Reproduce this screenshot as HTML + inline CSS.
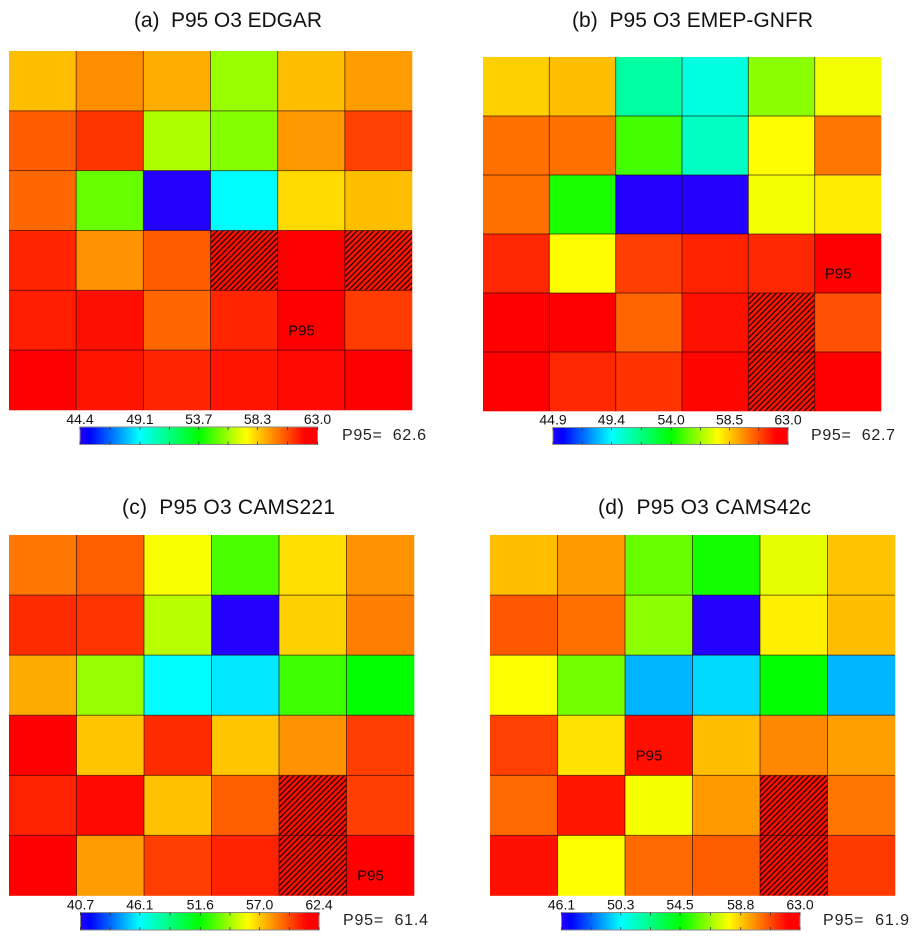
<!DOCTYPE html>
<html lang="en">
<head>
<meta charset="utf-8">
<title>P95 O3 maps</title>
<style>
html,body{margin:0;padding:0;background:#fff;width:919px;height:940px;overflow:hidden}
svg{display:block;font-family:"Liberation Sans",sans-serif}
.title{font-size:21px;fill:#111;white-space:pre}
.stat{font-size:16px;fill:#222;white-space:pre}
</style>
</head>
<body>
<svg id="chart" width="919" height="940" viewBox="0 0 919 940" xmlns="http://www.w3.org/2000/svg">
  <defs>
    <pattern id="hatch" patternUnits="userSpaceOnUse" width="5.6" height="5.6">
      <path d="M-1.4,1.4 L1.4,-1.4 M0,5.6 L5.6,0 M4.2,7 L7,4.2" stroke="#200000" stroke-width="1.25" fill="none"/>
    </pattern>
  </defs>
  <g id="panel-a">
    <text class="title" x="134" y="27" textLength="188">(a)  P95 O3 EDGAR</text>
    <text class="stat" x="342" y="440" textLength="84">P95=  62.6</text>
  </g>
  <g id="panel-b">
    <text class="title" x="572" y="27" textLength="241">(b)  P95 O3 EMEP-GNFR</text>
    <text class="stat" x="811" y="440" textLength="84">P95=  62.7</text>
  </g>
  <g id="panel-c">
    <text class="title" x="122" y="514" textLength="213">(c)  P95 O3 CAMS221</text>
    <text class="stat" x="343" y="925" textLength="85">P95=  61.4</text>
  </g>
  <g id="panel-d">
    <text class="title" x="598" y="514" textLength="213">(d)  P95 O3 CAMS42c</text>
    <text class="stat" x="823" y="925" textLength="86">P95=  61.9</text>
  </g>
</svg>
<script>
const valuesA = [
  [58.6, 59.5, 58.9, 55.9, 58.6, 59.2],
  [60.4, 61.1, 56.2, 55.6, 59.3, 60.9],
  [60.2, 55.2, 44.4, 49.0, 58.1, 58.6],
  [61.4, 59.4, 60.4, 61.8, 62.6, 61.7],
  [61.5, 61.8, 60.2, 61.4, 62.6, 61.0],
  [62.3, 61.7, 61.4, 61.7, 61.9, 62.3]
];
const valuesB = [
  [58.4, 58.7, 51.1, 50.0, 55.9, 57.4],
  [60.1, 60.1, 54.9, 50.5, 57.6, 60.0],
  [60.1, 54.3, 44.9, 44.9, 57.4, 57.9],
  [61.4, 57.6, 61.0, 61.5, 61.4, 62.7],
  [62.2, 62.2, 60.3, 61.8, 61.7, 60.7],
  [62.2, 61.4, 61.2, 62.0, 61.8, 62.2]
];
const valuesC = [
  [58.8, 59.3, 55.8, 52.8, 56.6, 58.2],
  [60.4, 60.2, 54.7, 40.7, 56.9, 58.6],
  [57.7, 54.1, 46.1, 45.7, 52.6, 51.6],
  [61.4, 57.1, 60.4, 57.1, 58.2, 60.0],
  [60.6, 61.1, 57.2, 59.3, 61.0, 60.0],
  [61.4, 58.0, 60.0, 60.6, 61.0, 61.4]
];
const valuesD = [
  [59.0, 59.6, 55.9, 54.8, 57.6, 58.9],
  [60.7, 60.3, 56.4, 46.1, 58.2, 59.0],
  [57.9, 56.1, 49.3, 49.8, 54.6, 49.3],
  [61.1, 58.4, 61.9, 59.0, 59.9, 59.5],
  [60.4, 61.8, 57.8, 59.6, 61.9, 60.2],
  [61.9, 57.9, 60.4, 60.6, 61.9, 61.2]
];
const ticksA = [44.4, 49.1, 53.7, 58.3, 63.0];
const ticksB = [44.9, 49.4, 54.0, 58.5, 63.0];
const ticksC = [40.7, 46.1, 51.6, 57.0, 62.4];
const ticksD = [46.1, 50.3, 54.5, 58.8, 63.0];
const hatchedA = [[3, 3], [3, 5]];
const hatchedB = [[4, 4], [5, 4]];
const hatchedC = [[4, 4], [5, 4]];
const hatchedD = [[4, 4], [5, 4]];
const p95CellA = [4, 4];
const p95CellB = [3, 5];
const p95CellC = [5, 5];
const p95CellD = [3, 2];

const SVG_NS = 'http://www.w3.org/2000/svg';

const layouts = {
  a: { plot: { x0: 9, x1: 412, y0: 51, y1: 410 }, bar: { x0: 80, x1: 317.5, y0: 427, y1: 444.5 } },
  b: { plot: { x0: 483, x1: 881, y0: 57, y1: 411 }, bar: { x0: 553, x1: 788, y0: 427.5, y1: 444.5 } },
  c: { plot: { x0: 9, x1: 414, y0: 535, y1: 895.5 }, bar: { x0: 80.5, x1: 319, y0: 912.5, y1: 930 } },
  d: { plot: { x0: 490, x1: 895, y0: 535, y1: 895.5 }, bar: { x0: 561.5, x1: 800, y0: 912.5, y1: 930 } }
};

const stopPositions = [0, 0.04, 0.25, 0.5, 0.7, 0.95];
const stopColors = [[36, 0, 255], [0, 0, 255], [0, 255, 255], [0, 255, 0], [255, 255, 0], [255, 0, 0]];

function colorAt(t) {
  if (t <= stopPositions[0]) return 'rgb(' + stopColors[0].join(',') + ')';
  for (let i = 1; i < stopPositions.length; i++) {
    if (t <= stopPositions[i]) {
      const f = (t - stopPositions[i - 1]) / (stopPositions[i] - stopPositions[i - 1]);
      const a = stopColors[i - 1];
      const b = stopColors[i];
      return 'rgb(' + a.map(function (c, k) { return Math.round(c + (b[k] - c) * f); }).join(',') + ')';
    }
  }
  return 'rgb(255,0,0)';
}

function make(tag, parent) {
  const el = document.createElementNS(SVG_NS, tag);
  parent.appendChild(el);
  return el;
}

function drawPanel(id, values, ticks, hatched, p95Cell) {
  const group = document.getElementById('panel-' + id);
  const plot = layouts[id].plot;
  const bar = layouts[id].bar;
  const vMin = ticks[0];
  const vMax = ticks[ticks.length - 1];
  const nRows = values.length;
  const nCols = values[0].length;
  const xCol = function (c) { return plot.x0 + c * (plot.x1 - plot.x0) / nCols; };
  const yRow = function (r) { return plot.y0 + r * (plot.y1 - plot.y0) / nRows; };
  const norm = function (v) { return (v - vMin) / (vMax - vMin); };
  const xBar = function (v) { return bar.x0 + norm(v) * (bar.x1 - bar.x0); };

  values.forEach(function (row, r) {
    row.forEach(function (v, c) {
      const cell = make('rect', group);
      
      
      cell.setAttribute('x', xCol(c));
      cell.setAttribute('y', yRow(r));
      cell.setAttribute('width', xCol(c + 1) - xCol(c) + 0.3);
      cell.setAttribute('height', yRow(r + 1) - yRow(r) + 0.3);
      cell.setAttribute('fill', colorAt(norm(v)));
    });
  });

  hatched.forEach(function (h) {
    const mask = make('rect', group);
    
    
    mask.setAttribute('x', xCol(h[1]));
    mask.setAttribute('y', yRow(h[0]));
    mask.setAttribute('width', xCol(h[1] + 1) - xCol(h[1]));
    mask.setAttribute('height', yRow(h[0] + 1) - yRow(h[0]));
    mask.setAttribute('fill', 'url(#hatch)');
  });

  for (let c = 1; c < nCols; c++) {
    const line = make('line', group);
    
    
    line.setAttribute('x1', xCol(c));
    line.setAttribute('x2', xCol(c));
    line.setAttribute('y1', yRow(0));
    line.setAttribute('y2', yRow(nRows));
    line.setAttribute('stroke', 'rgba(30,0,0,0.6)');
    line.setAttribute('stroke-width', '1');
  }
  for (let r = 1; r < nRows; r++) {
    const line = make('line', group);
    
    
    line.setAttribute('x1', xCol(0));
    line.setAttribute('x2', xCol(nCols));
    line.setAttribute('y1', yRow(r));
    line.setAttribute('y2', yRow(r));
    line.setAttribute('stroke', 'rgba(30,0,0,0.6)');
    line.setAttribute('stroke-width', '1');
  }

  const marker = make('text', group);
  
  
  marker.setAttribute('x', xCol(p95Cell[1] + 0.355));
  marker.setAttribute('y', yRow(p95Cell[0] + 0.67) + 5);
  marker.setAttribute('text-anchor', 'middle');
  marker.setAttribute('font-size', '15');
  marker.setAttribute('fill', '#1a0000');
  marker.textContent = 'P95';

  const steps = 120;
  for (let i = 0; i < steps; i++) {
    const seg = make('rect', group);
    
    
    const v = vMin + (i + 0.5) / steps * (vMax - vMin);
    seg.setAttribute('x', bar.x0 + i / steps * (bar.x1 - bar.x0));
    seg.setAttribute('y', bar.y0);
    seg.setAttribute('width', (bar.x1 - bar.x0) / steps + 0.4);
    seg.setAttribute('height', bar.y1 - bar.y0);
    seg.setAttribute('fill', colorAt(norm(v)));
  }
  const frame = make('rect', group);
  
  
  frame.setAttribute('x', bar.x0);
  frame.setAttribute('y', bar.y0);
  frame.setAttribute('width', bar.x1 - bar.x0);
  frame.setAttribute('height', bar.y1 - bar.y0);
  frame.setAttribute('fill', 'none');
  frame.setAttribute('stroke', '#8a8a8a');
  frame.setAttribute('stroke-width', '1');

  ticks.forEach(function (t, i) {
    const label = make('text', group);
    
    
    label.setAttribute('x', xBar(t));
    label.setAttribute('y', bar.y0 - 3);
    label.setAttribute('text-anchor', 'middle');
    label.setAttribute('font-size', '14');
    label.setAttribute('fill', '#111');
    label.textContent = t.toFixed(1);
    const positions = i < ticks.length - 1 ? [t, (t + ticks[i + 1]) / 2] : [t];
    positions.forEach(function (p) {
      const top = make('line', group);
      
      
      top.setAttribute('x1', xBar(p));
      top.setAttribute('x2', xBar(p));
      top.setAttribute('y1', bar.y0);
      top.setAttribute('y2', bar.y0 + 3);
      top.setAttribute('stroke', '#333');
      top.setAttribute('stroke-width', '0.8');
      const bottom = make('line', group);
      
      
      bottom.setAttribute('x1', xBar(p));
      bottom.setAttribute('x2', xBar(p));
      bottom.setAttribute('y1', bar.y1 - 3);
      bottom.setAttribute('y2', bar.y1);
      bottom.setAttribute('stroke', '#333');
      bottom.setAttribute('stroke-width', '0.8');
    });
  });
}

drawPanel('a', valuesA, ticksA, hatchedA, p95CellA);
drawPanel('b', valuesB, ticksB, hatchedB, p95CellB);
drawPanel('c', valuesC, ticksC, hatchedC, p95CellC);
drawPanel('d', valuesD, ticksD, hatchedD, p95CellD);
</script>
</body>
</html>
